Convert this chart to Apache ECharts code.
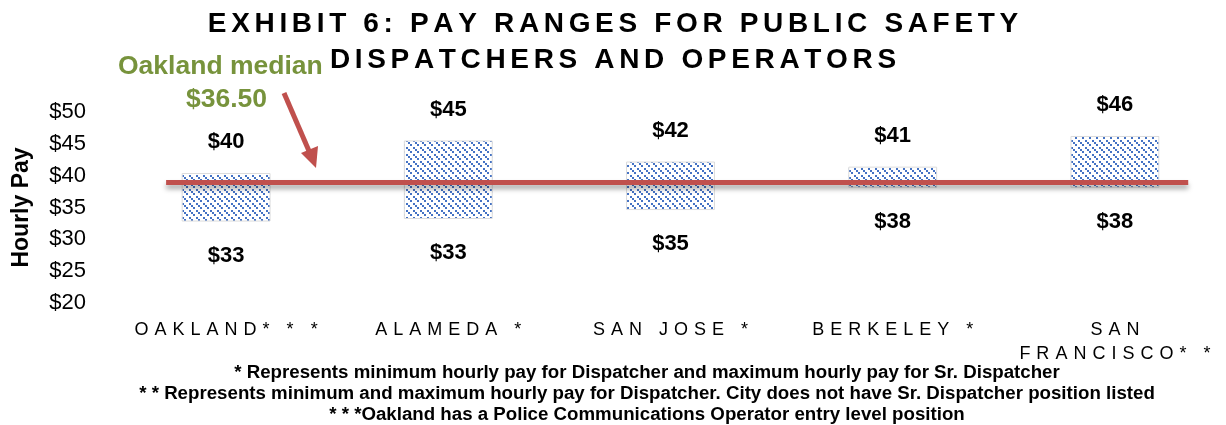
<!DOCTYPE html>
<html>
<head>
<meta charset="utf-8">
<script src="https://cdn.jsdelivr.net/npm/echarts@6/dist/echarts.min.js"></script>
<style>
  html, body { margin: 0; padding: 0; background: #fff; }
  #payChart { width: 1226px; height: 425px; }
</style>
</head>
<body>
<div id="payChart"></div>
<script>
var cities = ["OAKLAND* * *", "ALAMEDA *", "SAN JOSE *", "BERKELEY *", "SAN\nFRANCISCO* *"];
var minPay = [32.8, 33.2, 34.6, 38.1, 38.1];
var maxPay = [40.4, 45.5, 42.2, 41.4, 46.2];
var minLabels = ["$33", "$33", "$35", "$38", "$38"];
var maxLabels = ["$40", "$45", "$42", "$41", "$46"];
var medianLine = [[-0.27, 38.9], [4.33, 38.9]]; // drawn position of the median line
var yTicks = [20, 25, 30, 35, 40, 45, 50];
var notes = [
    "* Represents minimum hourly pay for Dispatcher and maximum hourly pay for Sr. Dispatcher",
    "* * Represents minimum and maximum hourly pay for Dispatcher. City does not have Sr. Dispatcher position listed",
    "* * *Oakland has a Police Communications Operator entry level position"
];

var FONT = "'Liberation Sans', Arial, sans-serif";
var RED = "#C0504D";
var GREEN = "#77933C";

// spread letters out a bit (no letter-spacing in echarts)
function spaced(str, sep) {
    return str.split("\n").map(function (line) {
        return line.split("").join(sep);
    }).join("\n");
}

// diagonal dotted hatch like the excel fill
function hatch() {
    var c = document.createElement("canvas");
    c.width = 7;
    c.height = 7;
    var ctx = c.getContext("2d");
    ctx.fillStyle = "#4472C4";
    [0, 2, 4].forEach(function (i) {
        ctx.fillRect(i, i, 2, 2);
    });
    return c;
}

var rangeVals = maxPay.map(function (v, i) {
    return +(v - minPay[i]).toFixed(2);
});

var myChart = echarts.init(document.getElementById("payChart"));

var option = {
    animation: false,
    title: {
        text: spaced("EXHIBIT 6: PAY RANGES FOR PUBLIC SAFETY\nDISPATCHERS AND OPERATORS", "\u2006"),
        left: "center",
        top: 1,
        textStyle: {
            fontFamily: FONT,
            fontSize: 28,
            fontWeight: "bold",
            color: "#000",
            lineHeight: 36
        }
    },
    grid: {
        left: 115,
        right: -10,
        top: 111.7,
        bottom: 121.7
    },
    xAxis: [
        {
            type: "category",
            data: cities,
            axisLine: { show: false },
            axisTick: { show: false },
            axisLabel: {
                interval: 0,
                margin: 15,
                fontFamily: FONT,
                fontSize: 18,
                color: "#000",
                lineHeight: 24,
                formatter: function (v) {
                    return spaced(v, "\u2004");
                }
            }
        },
        {
            type: "value",
            show: false,
            min: -0.5,
            max: 4.5
        }
    ],
    yAxis: {
        type: "value",
        min: yTicks[0],
        max: yTicks[yTicks.length - 1],
        interval: 5,
        name: "Hourly Pay",
        nameLocation: "middle",
        nameGap: 82,
        nameTextStyle: {
            fontFamily: FONT,
            fontSize: 23,
            fontWeight: "bold",
            color: "#000"
        },
        axisLine: { show: false },
        axisTick: { show: false },
        splitLine: { show: false },
        axisLabel: {
            margin: 29,
            fontFamily: FONT,
            fontSize: 22,
            color: "#000",
            formatter: "${value}"
        }
    },
    series: [
        {
            name: "base",
            type: "bar",
            stack: "pay",
            barWidth: "40%",
            data: minPay,
            itemStyle: { color: "transparent" },
            label: {
                show: true,
                position: "insideTop",
                distance: 23,
                fontFamily: FONT,
                fontSize: 22,
                fontWeight: "bold",
                color: "#000",
                formatter: function (p) { return minLabels[p.dataIndex]; }
            }
        },
        {
            name: "range",
            type: "bar",
            stack: "pay",
            barWidth: "40%",
            data: rangeVals,
            itemStyle: {
                color: { image: hatch(), repeat: "repeat" },
                borderColor: "#DCDCDC",
                borderWidth: 1
            },
            label: {
                show: true,
                position: "top",
                distance: 20,
                fontFamily: FONT,
                fontSize: 22,
                fontWeight: "bold",
                color: "#000",
                formatter: function (p) { return maxLabels[p.dataIndex]; }
            }
        },
        {
            name: "median",
            type: "line",
            xAxisIndex: 1,
            data: medianLine,
            symbol: "none",
            z: 5,
            lineStyle: {
                color: RED,
                width: 5,
                shadowColor: "rgba(0,0,0,0.35)",
                shadowBlur: 5,
                shadowOffsetY: 4
            }
        }
    ],
    graphic: [
        {
            type: "text",
            left: 118,
            top: 53,
            style: {
                text: "Oakland median",
                font: "bold 26.5px " + FONT,
                fill: GREEN
            }
        },
        {
            type: "text",
            left: 186,
            top: 86,
            style: {
                text: "$36.50",
                font: "bold 26.5px " + FONT,
                fill: GREEN
            }
        },
        {
            type: "line",
            shape: { x1: 284, y1: 93, x2: 309, y2: 151 },
            style: { stroke: RED, lineWidth: 5 }
        },
        {
            type: "polygon",
            shape: { points: [[316, 168], [301, 153], [318, 146]] },
            style: { fill: RED }
        }
    ].concat(notes.map(function (t, i) {
        return {
            type: "text",
            x: 647,
            y: 373 + i * 21,
            style: {
                text: t,
                font: "bold 18.7px " + FONT,
                fill: "#000",
                align: "center",
                verticalAlign: "middle"
            }
        };
    }))
};

myChart.setOption(option);
window.addEventListener("resize", function () {
    myChart.resize();
});
</script>
</body>
</html>
